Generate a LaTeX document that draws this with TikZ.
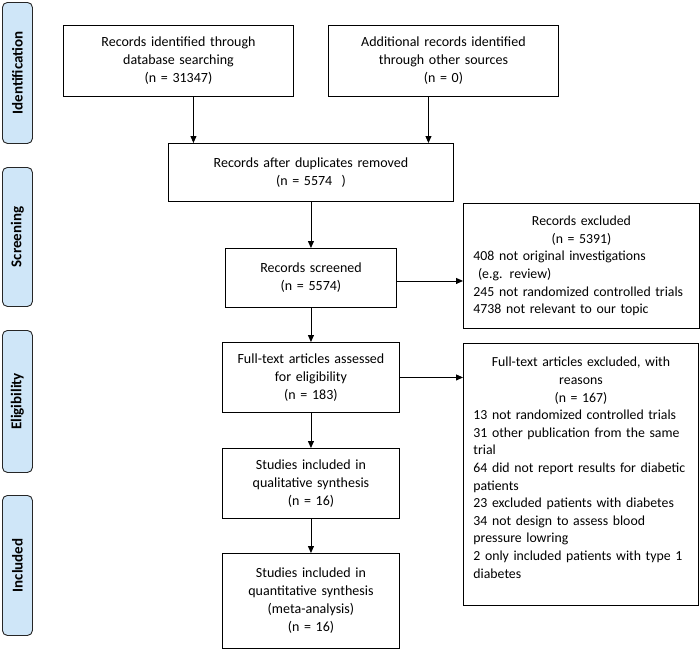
\documentclass[tikz,border=0pt]{standalone}
\usepackage{fontspec}
\setmainfont{Carlito}
\usetikzlibrary{arrows.meta}
\definecolor{phase}{HTML}{CFE6F8}
\tikzset{
  box/.style={draw=black, line width=0.9pt, inner xsep=3pt, inner ysep=3pt, align=center,
    font=\fontsize{14}{18}\selectfont},
  listbox/.style={box, align=left, inner xsep=10pt, font=\fontsize{13.8}{17.6}\selectfont},
  phasebox/.style={draw=black!85, line width=0.9pt, fill=phase, rounded corners=5pt,
    minimum width=30pt, inner sep=0pt},
  phasetext/.style={rotate=90, font=\fontsize{15}{17}\selectfont\bfseries},
  arr/.style={line width=0.9pt, -{Triangle[length=7pt,width=6pt]}}
}
\newcommand{\boxat}[7][box]{% style, name, x1, y1, x2, y2, text
  \node[#1, anchor=north west, minimum width={#5-#3}, minimum height={#6-#4}, text width={#5-#3-8}] (#2) at (#3,#4) {#7};}
\newcommand{\listat}[6]{% name, x1, y1, x2, y2, text
  \node[listbox, anchor=north west, minimum width={#4-#2}, minimum height={#5-#3}, text width={#4-#2-20}] (#1) at (#2,#3) {#6};}
\newcommand{\ctr}[1]{\makebox[\linewidth][c]{#1}}
\begin{document}
\begin{tikzpicture}[x=1pt,y=-1pt]
\useasboundingbox (0,0) rectangle (700,649);
% phase labels
\node[phasebox, anchor=north west, minimum height=141pt] (pid) at (2,2) {};
\node[phasetext] (tid) at (pid.center) {Identification};
\node[phasebox, anchor=north west, minimum height=139pt] (pscr) at (2,167) {};
\node[phasetext] (tscr) at (pscr.center) {Screening};
\node[phasebox, anchor=north west, minimum height=142pt] (pel) at (2,330) {};
\node[phasetext] (tel) at (pel.center) {Eligibility};
\node[phasebox, anchor=north west, minimum height=140pt] (pin) at (2,495) {};
\node[phasetext] (tin) at (pin.center) {Included};
% boxes
\boxat{b1}{63}{25}{293}{96}{Records identified through\\database searching\\(n = 31347)}
\boxat{b2}{328}{25}{558}{96}{Additional records identified\\through other sources\\(n = 0)}
\boxat{dup}{168}{143}{453}{201}{Records after duplicates removed\\(n = 5574\ \ )}
\boxat{scr}{225}{248}{396}{307}{Records screened\\(n = 5574)}
\listat{exa}{463}{203}{699}{328}{\ctr{Records excluded}\\\ctr{(n = 5391)}\\408 not original investigations\\\ (e.g. review)\\245 not randomized controlled trials\\4738 not relevant to our topic}
\boxat{ft}{222}{342}{399}{412}{Full-text articles assessed\\for eligibility\\(n = 183)}
\listat{exb}{463}{343}{698}{605}{\ctr{Full-text articles excluded, with}\\\ctr{reasons}\\\ctr{(n = 167)}\\13 not randomized controlled trials\\31 other publication from the same\\trial\\\mbox{64 did not report results for diabetic}\\patients\\23 excluded patients with diabetes\\34 not design to assess blood\\pressure lowring\\2 only included patients with type 1\\diabetes\\[-4pt]\mbox{}}
\boxat{qual}{222}{448}{399}{518}{Studies included in\\qualitative synthesis\\(n = 16)}
\boxat{quant}{222}{553}{399}{648}{Studies included in\\quantitative synthesis\\(meta-analysis)\\(n = 16)}
% arrows
\draw[arr] ([xshift=15pt]b1.south) -- ([xshift=15pt]b1.south |- dup.north);
\draw[arr] ([xshift=-15pt]b2.south) -- ([xshift=-15pt]b2.south |- dup.north);
\draw[arr] (dup.south) -- (scr.north);
\draw[arr] ([yshift=-3pt]scr.east) -- ([yshift=-3pt]scr.east -| exa.west);
\draw[arr] (scr.south) -- (ft.north);
\draw[arr] (ft.east) -- (ft.east -| exb.west);
\draw[arr] (ft.south) -- (qual.north);
\draw[arr] (qual.south) -- (quant.north);
\end{tikzpicture}
\end{document}
